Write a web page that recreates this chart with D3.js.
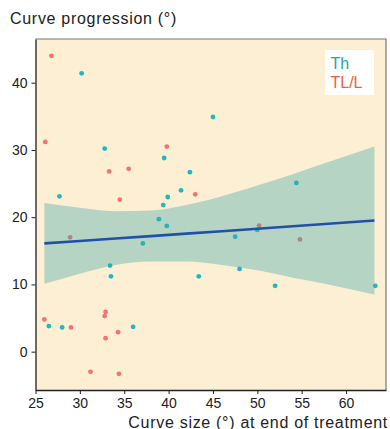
<!DOCTYPE html>
<html>
<head>
<meta charset="utf-8">
<script src="https://cdn.jsdelivr.net/npm/d3@7"></script>
<style>
  body { margin: 0; background: #fff; }
  text { font-family: "Liberation Sans", Arial, sans-serif; }
</style>
</head>
<body>
<script>
// points: curve size at end of treatment / curve progression
var thX = [30.2, 45.0, 32.8, 39.5, 42.4, 41.4, 39.9, 39.4, 27.7, 38.9, 39.8, 37.1,
           33.4, 33.5, 43.4, 54.4, 50.0, 47.5, 48.0, 52.0, 63.3, 26.5, 28.0, 36.0]
var thY = [41.4, 34.9, 30.2, 28.8, 26.7, 24.0, 23.0, 21.8, 23.1, 19.7, 18.7, 16.1,
           12.8, 11.2, 11.2, 25.1, 18.1, 17.1, 12.3, 9.8, 9.8, 3.8, 3.6, 3.7]
var tlX = [26.8, 26.1, 39.8, 33.3, 35.5, 43.0, 34.5, 28.9, 50.2, 54.8, 26.0, 29.0,
           32.9, 32.8, 32.9, 34.3, 31.2, 34.4]
var tlY = [44.0, 31.2, 30.5, 26.8, 27.2, 23.4, 22.6, 17.0, 18.75, 16.7, 4.8, 3.6,
           5.9, 5.3, 2.0, 2.9, -3.0, -3.3]

// fitted line and confidence band, read at a few x positions
var fitX = [26, 30, 34, 38, 42, 46, 50, 54, 58, 63.2]
var fitY = [16.1, 16.47, 16.82, 17.19, 17.55, 17.92, 18.29, 18.65, 19.02, 19.5]
var bandHi = [22.1, 21.4, 20.9, 21.0, 21.8, 23.1, 24.7, 26.4, 28.2, 30.5]
var bandLo = [10.1, 11.6, 12.9, 13.4, 13.4, 12.9, 12.1, 11.0, 10.0, 8.5]

var xTicks = [25, 30, 35, 40, 45, 50, 55, 60]
var yTicks = [0, 10, 20, 30, 40]
var groups = ["Th", "TL/L"]

var width = 390, height = 429
var colTh = "#1db8c2", colTl = "#f17373"

var svg = d3.select("body").append("svg")
  .attr("width", width)
  .attr("height", height)

var x = d3.scaleLinear().domain([25, 64.5]).range([35.5, 386])
var y = d3.scaleLinear().domain([-5.7, 46.5]).range([390, 39])

// panel background
svg.append("rect")
  .attr("x", x.range()[0]).attr("y", y.range()[1])
  .attr("width", x.range()[1] - x.range()[0])
  .attr("height", y.range()[0] - y.range()[1])
  .attr("fill", "#fdefd3")

// points
svg.append("g").selectAll("circle.th")
  .data(d3.zip(thX, thY))
  .join("circle")
  .attr("cx", d => x(d[0]))
  .attr("cy", d => y(d[1]))
  .attr("r", 2.4)
  .attr("fill", colTh)

svg.append("g").selectAll("circle.tl")
  .data(d3.zip(tlX, tlY))
  .join("circle")
  .attr("cx", d => x(d[0]))
  .attr("cy", d => y(d[1]))
  .attr("r", 2.4)
  .attr("fill", colTl)

// confidence band over the points
var band = d3.area()
  .x(d => x(d[0]))
  .y0(d => y(d[2]))
  .y1(d => y(d[1]))
  .curve(d3.curveMonotoneX)

svg.append("path")
  .datum(d3.zip(fitX, bandHi, bandLo))
  .attr("d", band)
  .attr("fill", "rgb(60,165,170)")
  .attr("fill-opacity", 0.37)

var line = d3.line()
  .x(d => x(d[0]))
  .y(d => y(d[1]))

svg.append("path")
  .datum(d3.zip(fitX, fitY))
  .attr("d", line)
  .attr("fill", "none")
  .attr("stroke", "#2150a8")
  .attr("stroke-width", 2.6)

// grey frame on top and right
svg.append("path")
  .attr("d", "M" + x.range()[0] + "," + y.range()[1] + "H" + x.range()[1] + "V" + y.range()[0])
  .attr("fill", "none")
  .attr("stroke", "#777")
  .attr("stroke-width", 1.2)

// axes
var xAxis = svg.append("g")
  .attr("transform", "translate(0," + y.range()[0] + ")")
  .call(d3.axisBottom(x).tickValues(xTicks).tickSize(4).tickSizeOuter(0))
var yAxis = svg.append("g")
  .attr("transform", "translate(" + x.range()[0] + ",0)")
  .call(d3.axisLeft(y).tickValues(yTicks).tickSize(4).tickSizeOuter(0))

;[xAxis, yAxis].forEach(a => {
  a.select(".domain").attr("stroke", "#222").attr("stroke-width", 1.3)
  a.selectAll(".tick line").attr("stroke", "#222")
  a.selectAll(".tick text")
    .attr("fill", "#222")
    .style("font-size", "14px")
    .style("font-family", "'Liberation Sans', Arial, sans-serif")
})
xAxis.selectAll(".tick text").attr("dy", "0.76em")
yAxis.selectAll(".tick text").attr("x", -8)

// titles (reference face runs wider than Arial, hence the spacing)
svg.append("text")
  .attr("x", 10).attr("y", 23.5)
  .attr("fill", "#222")
  .style("font-size", "16px")
  .style("letter-spacing", "0.7px")
  .text("Curve progression (°)")

svg.append("text")
  .attr("x", 388).attr("y", 427.5)
  .attr("text-anchor", "end")
  .attr("fill", "#222")
  .style("font-size", "16px")
  .style("letter-spacing", "0.7px")
  .text("Curve size (°) at end of treatment")

// legend
svg.append("rect")
  .attr("x", 325).attr("y", 50)
  .attr("width", 49).attr("height", 45)
  .attr("fill", "#fff")
svg.append("g").selectAll("text")
  .data(groups)
  .join("text")
  .attr("x", 330.5)
  .attr("y", (d, i) => 69 + i * 18.5)
  .attr("fill", (d, i) => i ? "#f25d3a" : "#1aaa9c")
  .style("font-size", "16px")
  .text(d => d)
</script>
</body>
</html>
